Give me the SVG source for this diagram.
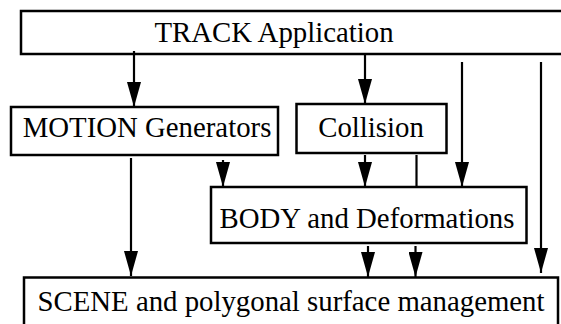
<svg xmlns="http://www.w3.org/2000/svg" width="561" height="324" viewBox="0 0 561 324">
<defs>
<marker id="ah" markerUnits="userSpaceOnUse" markerWidth="25" markerHeight="14" refX="25" refY="7" orient="auto" viewBox="0 0 25 14">
<path d="M0,0 L25,7 L0,14 Z" fill="#000"/>
</marker>
<style>
.box{fill:#fff;stroke:#000;stroke-width:2.5}
.t{font-family:"Liberation Serif","Times New Roman",serif;font-size:28.8px;fill:#000;text-anchor:middle}
.c{stroke:#000;stroke-width:2.2;fill:none}
.a{marker-end:url(#ah)}
</style>
</defs>
<rect width="561" height="324" fill="#fff"/>
<g id="track">
<rect class="box" x="21" y="11" width="560" height="43"/>
<text class="t" x="274" y="42">TRACK Application</text>
</g>
<g id="motion">
<rect class="box" x="11" y="107" width="267" height="48"/>
<text class="t" x="147" y="137">MOTION Generators</text>
</g>
<g id="collision">
<rect class="box" x="296.5" y="104" width="150" height="49"/>
<text class="t" x="371" y="137">Collision</text>
</g>
<g id="body">
<rect class="box" x="211" y="187" width="315.5" height="56"/>
<text class="t" x="367" y="228">BODY and Deformations</text>
</g>
<g id="scene">
<rect class="box" x="24" y="277.5" width="534" height="60"/>
<text class="t" x="291" y="311">SCENE and polygonal surface management</text>
</g>
<g id="connectors">
<line class="c a" x1="134" y1="51" x2="134" y2="107"/>
<line class="c a" x1="365" y1="54" x2="365" y2="104"/>
<line class="c a" x1="462" y1="62" x2="462" y2="187"/>
<line class="c a" x1="541" y1="62" x2="541" y2="273"/>
<line class="c a" x1="131" y1="158" x2="131" y2="276"/>
<line class="c a" x1="223" y1="160" x2="223" y2="187"/>
<line class="c a" x1="365" y1="155" x2="365" y2="187"/>
<line class="c" x1="416.5" y1="155" x2="416.5" y2="187"/>
<line class="c a" x1="368" y1="246" x2="368" y2="277"/>
<line class="c a" x1="415.5" y1="246" x2="415.5" y2="277"/>
</g>
</svg>
